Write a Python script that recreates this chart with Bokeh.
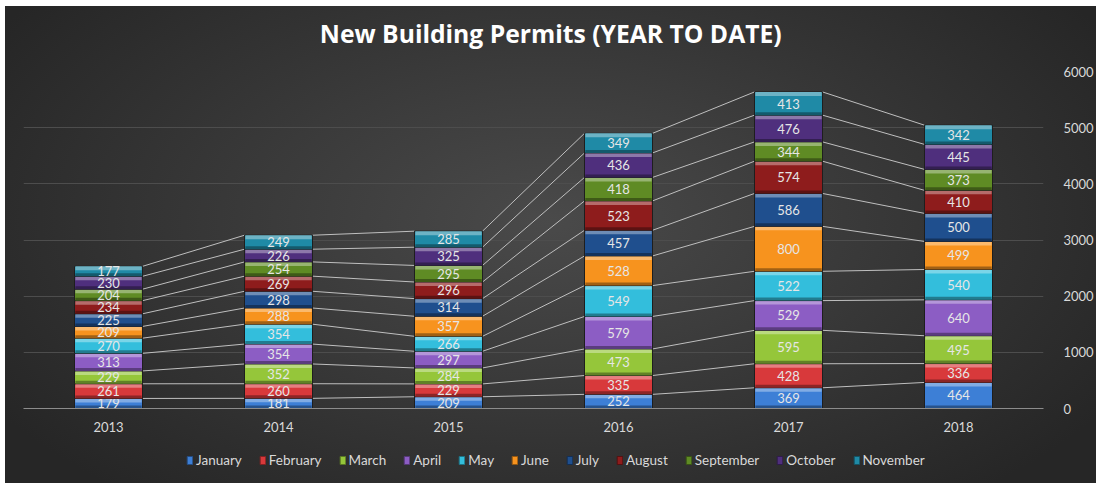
from bokeh.plotting import figure
from bokeh.layouts import column
from bokeh.models import Range1d, FixedTicker, Legend, LegendItem, ColumnDataSource
from bokeh.embed import file_html
from bokeh.resources import INLINE
from bokeh.core.properties import value

title_text = "New Building Permits (YEAR TO DATE)"
years = ["2013", "2014", "2015", "2016", "2017", "2018"]
months = ["January", "February", "March", "April", "May", "June",
          "July", "August", "September", "October", "November"]
january = [179, 181, 209, 252, 369, 464]
february = [261, 260, 229, 335, 428, 336]
march = [229, 352, 284, 473, 595, 495]
april = [313, 354, 297, 579, 529, 640]
may = [270, 354, 266, 549, 522, 540]
june = [209, 288, 357, 528, 800, 499]
july = [225, 298, 314, 457, 586, 500]
august = [234, 269, 296, 523, 574, 410]
september = [204, 254, 295, 418, 344, 373]
october = [230, 226, 325, 436, 476, 445]
november = [177, 249, 285, 349, 413, 342]
y_ticks = [0, 1000, 2000, 3000, 4000, 5000, 6000]

series = [january, february, march, april, may, june, july, august,
          september, october, november]
colors = ["#3d7fd6", "#d8393b", "#95c63a", "#8c5dc4", "#33bedc", "#f7931e",
          "#1f4f8e", "#8e1c1c", "#5f8b24", "#4f2f7d", "#1f8aa6"]


def blend(c, t, f):
    a = [int(c[i:i + 2], 16) for i in (1, 3, 5)]
    b = [int(t[i:i + 2], 16) for i in (1, 3, 5)]
    return "#%02x%02x%02x" % tuple(int(round(a[k] + (b[k] - a[k]) * f)) for k in range(3))


def bare(fig):
    fig.background_fill_color = None
    fig.border_fill_color = None
    fig.outline_line_color = None
    fig.grid.visible = False


W = 1091
xs = list(range(len(years)))
bar_w = 0.40

# ---- title strip ----
pt = figure(width=W, height=50, x_range=Range1d(0, W), y_range=Range1d(0, 50),
            output_backend="svg", toolbar_location=None, min_border=0,
            x_axis_location=None, y_axis_location=None)
bare(pt)
pt.text(x=[317], y=[23], text=[title_text], text_align="left", text_baseline="middle",
        text_font=value("Open Sans"), text_font_size="24.7px", text_font_style="bold",
        text_color="#ffffff")

# ---- main chart ----
p = figure(width=W, height=390, x_range=Range1d(-0.5, 5.5), y_range=Range1d(0, 6000),
           output_backend="svg", toolbar_location=None, y_axis_location="right",
           min_border_left=18, min_border_right=49, min_border_top=15, min_border_bottom=38)
bare(p)
p.ygrid.visible = True
p.ygrid.grid_line_color = "#4d4d4d"
p.ygrid.grid_line_width = 1
p.yaxis.ticker = FixedTicker(ticks=y_ticks)
p.yaxis.axis_line_color = None
p.yaxis.major_tick_line_color = None
p.yaxis.minor_tick_line_color = None
p.yaxis.major_label_standoff = 14
p.yaxis.major_label_text_font = "Lato"
p.yaxis.major_label_text_font_size = "13px"
p.yaxis.major_label_text_color = "#d9d9d9"

p.xaxis.ticker = FixedTicker(ticks=xs)
p.xaxis.major_label_overrides = {i: y for i, y in enumerate(years)}
p.xaxis.axis_line_color = "#8c8c8c"
p.xaxis.major_tick_line_color = None
p.xaxis.minor_tick_line_color = None
p.xaxis.major_label_standoff = 7
p.xaxis.major_label_text_font = "Lato"
p.xaxis.major_label_text_font_size = "13px"
p.xaxis.major_label_text_color = "#d9d9d9"

bottoms, tops = [], []
run = [0] * len(years)
for s in series:
    bottoms.append(list(run))
    run = [run[i] + s[i] for i in range(len(years))]
    tops.append(list(run))

x0, y0, x1, y1 = [], [], [], []
for k in range(len(series)):
    for i in range(len(years) - 1):
        x0.append(xs[i] + bar_w / 2)
        y0.append(tops[k][i])
        x1.append(xs[i + 1] - bar_w / 2)
        y1.append(tops[k][i + 1])
p.segment(x0=x0, y0=y0, x1=x1, y1=y1, line_color="#bfbfbf", line_width=1)

upp = 6000 / 337.0  # data units per pixel
for k, s in enumerate(series):
    src = ColumnDataSource(dict(x=xs, bottom=bottoms[k], top=tops[k],
                                hl_b=[t - 4 * upp for t in tops[k]],
                                sh_t=[b + 3 * upp for b in bottoms[k]],
                                mid=[(bottoms[k][i] + tops[k][i]) / 2 for i in range(len(xs))],
                                txt=[str(v) for v in s]))
    p.vbar(x="x", bottom="bottom", top="top", width=bar_w, source=src,
           fill_color=colors[k], line_color="#1e1e1e", line_width=1)
    p.vbar(x="x", bottom="hl_b", top="top", width=bar_w - 0.01, source=src,
           fill_color=blend(colors[k], "#ffffff", 0.35), line_color=None)
    p.vbar(x="x", bottom="bottom", top="sh_t", width=bar_w - 0.01, source=src,
           fill_color=blend(colors[k], "#000000", 0.35), line_color=None)
    p.text(x="x", y="mid", text="txt", source=src, text_align="center",
           text_baseline="middle", text_font=value("Lato"), text_font_size="13px",
           text_color="#e6e6e6")

# ---- legend strip ----
pl = figure(width=W, height=37, x_range=Range1d(0, 1), y_range=Range1d(0, 1),
            output_backend="svg", toolbar_location=None, min_border=0,
            x_axis_location=None, y_axis_location=None)
bare(pl)
items = []
for k in range(len(series)):
    # off-screen proxy glyph, only used to draw the legend swatch
    r = pl.vbar(x=[-5], bottom=[-5], top=[-4], width=0.1, fill_color=colors[k],
                line_color=blend(colors[k], "#000000", 0.4), line_width=1)
    items.append(LegendItem(label=months[k], renderers=[r]))
legend = Legend(items=items, orientation="horizontal", location=(163, 15),
                background_fill_alpha=0, border_line_color=None,
                label_text_font="Lato", label_text_font_size="13.5px",
                label_text_color="#d9d9d9", glyph_width=7, glyph_height=10,
                label_standoff=3, spacing=17, padding=4, margin=0)
pl.add_layout(legend, "center")

layout = column(pt, p, pl, spacing=0, margin=(6, 0, 0, 5))
layout.styles = {"background": "radial-gradient(ellipse 60% 75% at 50% 45%, #4a4a4a 0%, #3a3a3a 45%, #262626 100%)"}

open("out.html", "w").write(file_html(layout, INLINE))
